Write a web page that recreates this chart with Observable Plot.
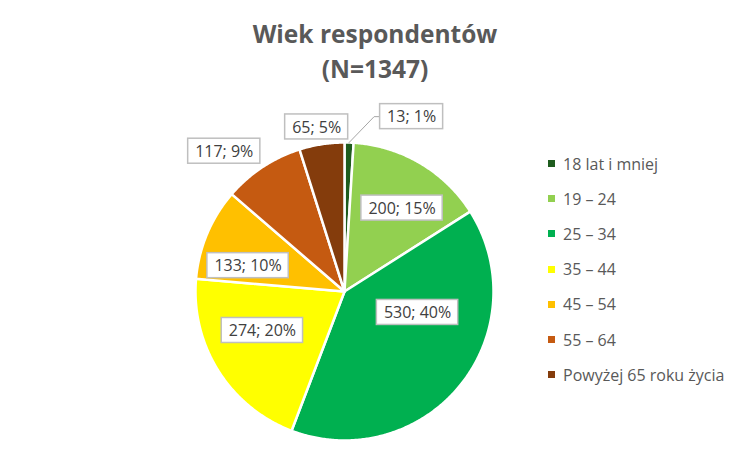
<!DOCTYPE html>
<html>
<head>
<meta charset="utf-8">
<script src="https://cdn.jsdelivr.net/npm/d3@7"></script>
<script src="https://cdn.jsdelivr.net/npm/@observablehq/plot@0.6"></script>
<style>
  body { margin: 0; background: #fff; }
  #wrap { position: relative; width: 750px; height: 450px; overflow: hidden; font-family: "Open Sans", sans-serif; }
  #title { position: absolute; top: 16px; left: 0; width: 750px; text-align: center; font-weight: bold; font-size: 24.5px; line-height: 35px; color: #595959; }
  #legend { position: absolute; left: 548px; top: 146px; }
  .item { height: 35.2px; display: flex; align-items: center; font-size: 16px; color: #595959; white-space: nowrap; }
  .sw { width: 7px; height: 7px; margin-right: 8px; flex: none; }
  #chart { position: absolute; left: 0; top: 0; }
</style>
</head>
<body>
<div id="wrap">
  <div id="chart"></div>
  <div id="title">Wiek respondentów<br>(N=1347)</div>
  <div id="legend"></div>
</div>
<script>
// ---- data ----
const categories = ["18 lat i mniej", "19 – 24", "25 – 34", "35 – 44", "45 – 54", "55 – 64", "Powyżej 65 roku życia"];
const values = [13, 200, 530, 274, 133, 117, 65];
const percents = [1, 15, 40, 20, 10, 9, 5];
const colors = ["#1E5C1E", "#92D050", "#00B050", "#FFFF00", "#FFC000", "#C55A11", "#843C0C"];

// ---- label layout (angle in degrees clockwise from 12 o'clock, radius as fraction of pie radius) ----
const labelAngle = [21, 34.6, 106, 244.6, 285, 319.4, 350.4];
const labelRadius = [1.257, 0.68, 0.51, 0.61, 0.67, 1.24, 1.12];

const R = 149, CX = 344, CY = 291;
const pxPerUnit = R;
const deg = Math.PI / 180;

const arcs = d3.pie().sort(null).value(d => d)(values);

// slice polygons in data coordinates (unit circle)
const slicePolys = arcs.map((a, i) => {
  const pts = [{x: 0, y: 0}];
  const n = Math.max(2, Math.ceil((a.endAngle - a.startAngle) / (0.5 * deg)));
  for (let k = 0; k <= n; k++) {
    const t = a.startAngle + (a.endAngle - a.startAngle) * k / n;
    pts.push({x: Math.sin(t), y: Math.cos(t)});
  }
  return pts;
});

const fontSize = 16;
const ctx = document.createElement("canvas").getContext("2d");
ctx.font = `${fontSize}px 'Open Sans'`;
const labels = values.map((v, i) => {
  const text = `${v}; ${percents[i]}%`;
  const w = ctx.measureText(text).width + 14;
  const h = 25;
  const a = labelAngle[i] * deg;
  const x = Math.sin(a) * labelRadius[i];
  const y = Math.cos(a) * labelRadius[i];
  return {text, x, y,
    x1: x - w / 2 / pxPerUnit, x2: x + w / 2 / pxPerUnit,
    y1: y - h / 2 / pxPerUnit, y2: y + h / 2 / pxPerUnit};
});

// leader line for the smallest slice
const a0 = (arcs[0].startAngle + arcs[0].endAngle) / 2;
const lb = labels[0];
const leader = [
  {x: Math.sin(a0) * 1.0, y: Math.cos(a0) * 1.0},
  {x: lb.x1 - 6 / pxPerUnit, y: lb.y},
  {x: lb.x1, y: lb.y}
];

const chart = Plot.plot({
  width: 750,
  height: 450,
  margin: 0,
  style: {fontFamily: "Open Sans", background: "transparent"},
  x: {domain: [-1, 1], range: [CX - R, CX + R], axis: null},
  y: {domain: [-1, 1], range: [CY + R, CY - R], axis: null},
  marks: [
    ...slicePolys.map((pts, i) => Plot.line(pts, {x: "x", y: "y", fill: colors[i], stroke: "white", strokeWidth: 2.5, strokeLinejoin: "round", curve: "linear-closed"})),
    Plot.line(leader, {x: "x", y: "y", stroke: "#A6A6A6", strokeWidth: 1}),
    Plot.rect(labels, {x1: "x1", x2: "x2", y1: "y1", y2: "y2", fill: "white", stroke: "#BFBFBF", strokeWidth: 1.5}),
    Plot.text(labels, {x: "x", y: "y", text: "text", fill: "#404040", fontSize: fontSize, dy: 0.5})
  ]
});
document.getElementById("chart").appendChild(chart);

const legend = document.getElementById("legend");
categories.forEach((c, i) => {
  const d = document.createElement("div");
  d.className = "item";
  d.innerHTML = `<span class="sw" style="background:${colors[i]}"></span><span>${c}</span>`;
  legend.appendChild(d);
});
</script>
</body>
</html>
